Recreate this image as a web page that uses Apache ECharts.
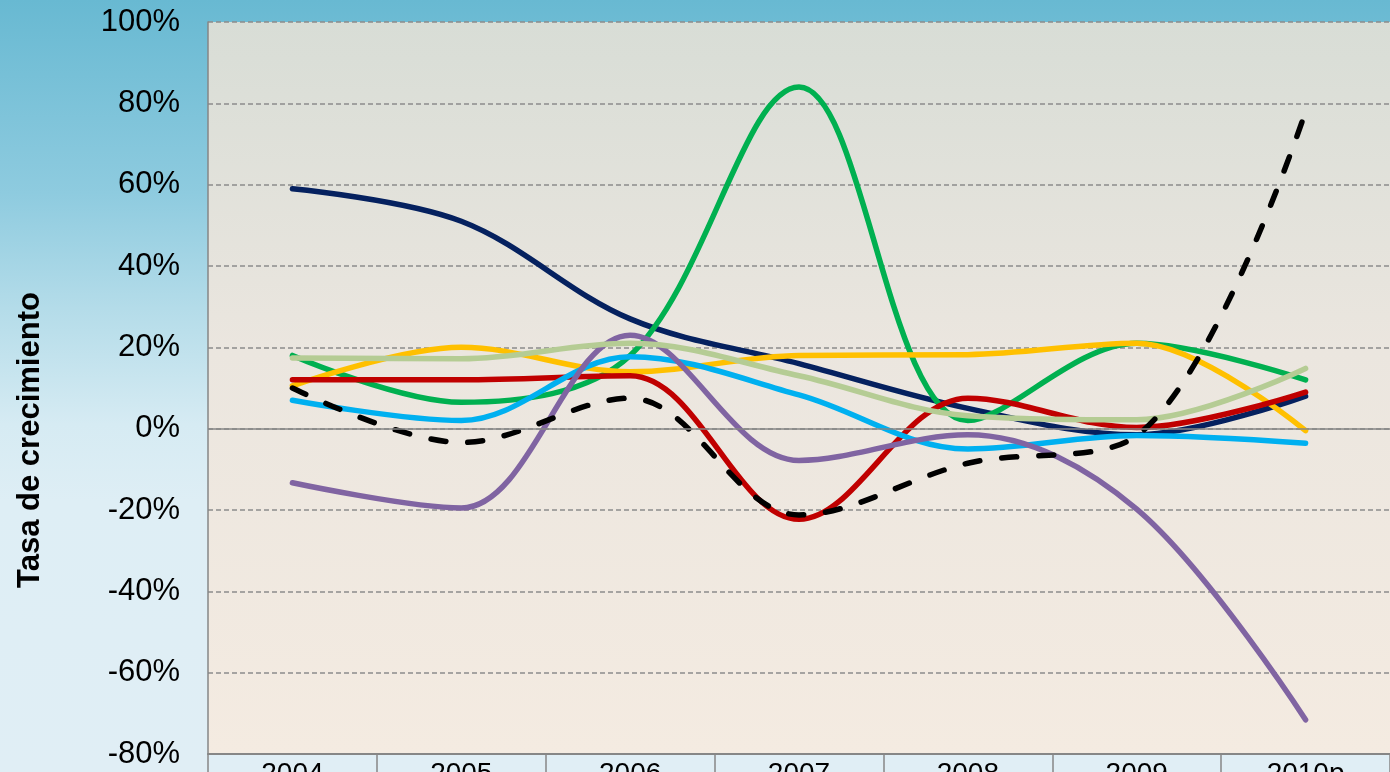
<!DOCTYPE html>
<html>
<head>
<meta charset="utf-8">
<script src="https://cdn.jsdelivr.net/npm/echarts@6/dist/echarts.min.js"></script>
<style>
html,body{margin:0;padding:0;}
#chart{width:1390px;height:772px;background:linear-gradient(180deg,#68b9d2 0%,#8ecbdf 25%,#b4dce9 40%,#d6ebf3 55%,#deeef5 65%,#e0eef5 100%);}
</style>
</head>
<body>
<div id="chart"></div>
<script>
const categories = ['2004','2005','2006','2007','2008','2009','2010p'];
const yTicks = [-80,-60,-40,-20,0,20,40,60,80,100];
const navy   = [59, 51, 27, 16, 5, -1.5, 8];
const green  = [18, 6.5, 18, 84, 2, 21, 12];
const yellow = [10.5, 20, 14, 18, 18.2, 21, -0.5];
const red    = [12, 12, 13, -22.3, 7.5, 0.3, 9];
const cyan   = [7, 2, 17.7, 8.3, -5, -1.7, -3.6];
const purple = [-13.3, -19.5, 23, -7.8, -1.5, -19.8, -71.6];
const olive  = [17.4, 17.2, 21, 13, 3.2, 2.2, 14.8];
const black  = [10, -3.4, 7.5, -21.2, -8.5, -1.7, 78];
const yAxisTitle = 'Tasa de crecimiento';

const FONT = "'Liberation Sans', Arial, sans-serif";
const chart = echarts.init(document.getElementById('chart'), null, {renderer:'canvas'});

function line(name, data, color, extra) {
  return Object.assign({
    name, type:'line', data, smooth:0.35, symbol:'none', silent:true,
    lineStyle:{color, width:5.5, cap:'round', join:'round'},
    itemStyle:{color}
  }, extra || {});
}

const option = {
  animation:false,
  backgroundColor:'transparent',
  grid:{
    left:208, right:0, top:22, bottom:18, show:true, borderWidth:0,
    outerBoundsMode:'none', containLabel:false,
    backgroundColor:{type:'linear',x:0,y:0,x2:0,y2:1,colorStops:[
      {offset:0,color:'#d8ddd6'},{offset:0.45,color:'#ebe6df'},{offset:1,color:'#f4ebe1'}]}
  },
  xAxis:{
    type:'category', data:categories, boundaryGap:true,
    axisLine:{show:true,onZero:false,lineStyle:{color:'#868686',width:2}},
    axisTick:{show:true,length:24,lineStyle:{color:'#868686',width:1.5}},
    axisLabel:{color:'#000',fontSize:28,fontFamily:FONT,margin:6},
    splitLine:{show:false}
  },
  yAxis:{
    type:'value', min:yTicks[0], max:yTicks[yTicks.length-1], interval:20,
    axisLine:{show:true,lineStyle:{color:'#868686',width:1.5}},
    axisTick:{show:false},
    axisLabel:{color:'#000',fontSize:31,fontFamily:FONT,margin:28,formatter:'{value}%'},
    splitLine:{show:true,lineStyle:{color:'#8c8c8c',width:1.5,type:[5,3]}}
  },
  graphic:[{
    type:'text', x:30, y:440, rotation:Math.PI/2,
    style:{text:yAxisTitle, font:"bold 31px 'Liberation Sans', Arial, sans-serif", fill:'#000', align:'center', verticalAlign:'middle'}
  }],
  series:[
    line('navy', navy, '#05215f', {markLine:{silent:true,symbol:'none',label:{show:false},
      lineStyle:{color:'#868686',width:1.5,type:'solid'},data:[{yAxis:0}]}}),
    line('green', green, '#00b050'),
    line('yellow', yellow, '#ffc000'),
    line('red', red, '#c00000'),
    line('cyan', cyan, '#00b0f0'),
    line('purple', purple, '#8064a2'),
    line('olive', olive, '#b5cc94'),
    line('black', black, '#000000', {lineStyle:{color:'#000',width:5.5,type:[15,22],cap:'round'}})
  ]
};
chart.setOption(option);
</script>
</body>
</html>
